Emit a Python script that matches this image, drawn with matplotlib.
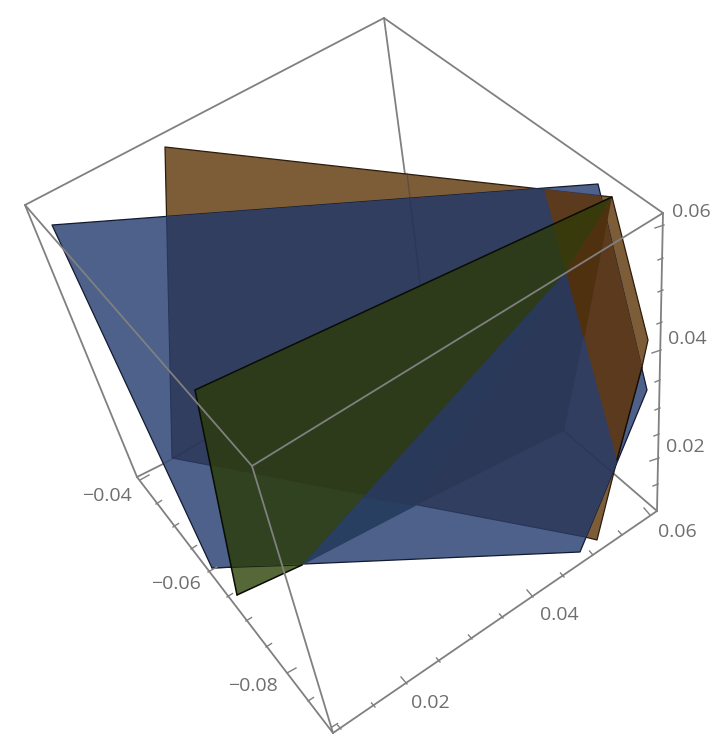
import numpy as np
import matplotlib
matplotlib.use('Agg')
import matplotlib.pyplot as plt
from matplotlib.patches import Polygon

plt.rcParams['font.family'] = ['Open Sans', 'DejaVu Sans']

boxBack     = [[(384, 18), (424, 316)], [(137, 477), (165, 463)], [(613, 473), (657, 511)]]
boxDim      = [[(407, 173), (424, 316)], [(165, 463), (225, 428)], [(564, 431), (613, 473)]]
boxFront    = [[(25, 205), (384, 18)], [(384, 18), (663, 213)], [(25, 205), (137, 477)],
               [(137, 477), (333, 733)], [(333, 733), (657, 511)], [(657, 511), (663, 213)],
               [(25, 205), (252, 466)], [(252, 466), (663, 213)], [(252, 466), (333, 733)]]

brownFace   = [(165, 147), (612, 197), (648, 340), (642, 367), (617, 460), (597, 540), (585, 537), (172, 458)]
blueFace    = [(52, 225), (598, 184), (647, 390), (580, 552), (212, 568)]
greenFull   = [(612, 197), (195, 390), (237, 595), (564, 431), (607, 223)]
greenFront  = [(612, 197), (195, 390), (237, 595), (302, 565), (566, 272)]
tealBand    = [(566, 272), (302, 565), (415, 506)]
tealLow     = [(360, 497), (302, 565), (415, 506)]
brownOnBlue = [(544, 189), (601, 196), (642, 367), (617, 460)]
brownOnGreen = [(612, 197), (566, 272), (584, 340), (607, 223)]
oliveTip    = [(612, 197), (553, 225), (566, 272)]
blueLower   = [(172, 458), (597, 540), (580, 552), (212, 568)]
greenTip    = [(205, 568), (302, 564), (302, 600), (205, 600)]

# Tick positions on the axes and their offsets
xTicks      = [(140, 480), (156, 504), (173, 527), (191, 549), (208, 572), (227, 597),
               (246, 621), (266, 647), (287, 673), (308, 701), (332, 727)]
xMajor      = [0, 4, 8]
yTicks      = [(650, 515), (622, 535), (593, 555), (564, 577), (533, 597), (503, 618),
               (472, 639), (440, 662), (407, 684), (375, 707), (341, 729)]
yMajor      = [0, 4, 8]
zTicks      = [(664, 225), (663, 258), (663, 290), (662, 322), (661, 350), (660, 380),
               (660, 408), (659, 434), (659, 458), (658, 484)]
zMajor      = [0, 4, 8]

axisLabels  = ['\u22120.04', '\u22120.06', '\u22120.08', '0.02', '0.04', '0.06', '0.02', '0.04', '0.06']
labelX      = [107, 176, 253, 430, 559, 677, 685, 687, 691]
labelY      = [496, 584, 686, 703, 615, 532, 447, 339, 212]

GREY = '#808080'

fig = plt.figure(figsize=(7.2, 7.36), dpi=100)
ax = fig.add_axes([0, 0, 1, 1])
ax.set_xlim(0, 720)
ax.set_ylim(736, 0)
ax.axis('off')

layer = [1]     # Painting order, patches and lines share it


def nextLayer():
    layer[0] += 1
    return layer[0]


def addFace(points, color, edge='none', lw=0.9, clip=None):
    p = Polygon(points, closed=True, facecolor=color, edgecolor=edge, linewidth=lw,
                joinstyle='round', zorder=nextLayer())
    ax.add_patch(p)
    if clip is not None:
        p.set_clip_path(clip)
    return p


def addLines(segments, color, lw=1.3, alpha=1.0):
    z = nextLayer()
    for seg in segments:
        pts = np.array(seg)
        ax.plot(pts[:, 0], pts[:, 1], color=color, lw=lw, alpha=alpha, solid_capstyle='round', zorder=z)


def addTicks(ticks, majors, dMajor, dMinor):
    for i, (tx, ty) in enumerate(ticks):
        d = dMajor if i in majors else dMinor
        ax.plot([tx, tx + d[0]], [ty, ty + d[1]], color=GREY, lw=1.0, zorder=nextLayer())


addLines(boxBack, GREY)

addFace(brownFace, '#7d5c38', '#2a1c0c')
blue = addFace(blueFace, '#4e618a', '#121a30')
addFace(brownFace, '#313e60', '#27355a', 0.8, clip=blue)
addFace(greenFull, '#2c3858', clip=blue)
addFace(tealBand, '#28395a', clip=blue)
addFace(tealLow, '#293f62', clip=blue)
addLines(boxDim, '#1e2a48', lw=1.0, alpha=0.3)

addFace(brownOnBlue, '#5b3a1d')
addFace(brownOnGreen, '#50310f')
addLines([[(642, 367), (617, 460)]], '#140c04', lw=1.0)

green = addFace(greenFront, '#2d3b1a')
addFace(oliveTip, '#393a0c', clip=green)
addFace(blueLower, '#30421f', clip=green)
addFace(greenTip, '#566838', clip=green)
addLines([[(212, 568), (302, 565)]], '#1a2410', lw=0.8)
addLines([[(612, 197), (195, 390)], [(195, 390), (237, 595)], [(237, 595), (302, 565)]], '#080c04', lw=1.1)

addLines(boxFront, GREY)
addTicks(xTicks, xMajor, (9, -5), (5.5, -3.5))
addTicks(yTicks, yMajor, (-6, -7), (-3.5, -4))
addTicks(zTicks, zMajor, (-9, 3), (-5, 2))

for lab, lx, ly in zip(axisLabels, labelX, labelY):
    ax.text(lx, ly, lab, color='#6e6e6e', fontsize=14, ha='center', va='center', zorder=nextLayer())

fig.savefig('out.png', dpi=100)
